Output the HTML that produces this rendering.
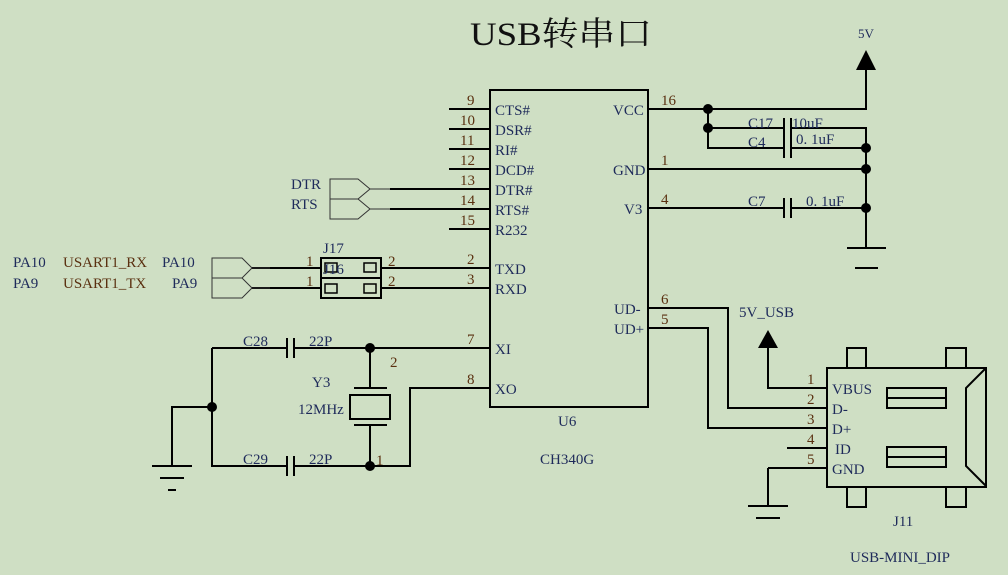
<!DOCTYPE html>
<html><head><meta charset="utf-8"><style>
html,body{margin:0;padding:0;background:#cfdfc4;}
svg{display:block}
text{font-family:"Liberation Serif","Noto Serif CJK SC",serif;font-size:15px;fill:#1e2a5a}
.n{fill:#5a3010}
</style></head><body>
<svg width="1008" height="575" viewBox="0 0 1008 575" xmlns="http://www.w3.org/2000/svg">
<rect width="1008" height="575" fill="#cfdfc4"/>
<text x="470" y="45" style="font-size:33px;fill:#111" textLength="182" lengthAdjust="spacingAndGlyphs">USB转串口</text>
<g stroke="#000" stroke-width="2" fill="none">
<!-- chip -->
<rect x="490" y="90" width="158" height="317"/>
<path d="M449 109H490M449 129H490M449 149H490M449 169H490M449 229H490"/>
<path d="M390 189H490M390 209H490"/>
<path d="M381 268H490M381 288H490"/>
<path d="M252 268H321M252 288H321"/>
<!-- right pins -->
<path d="M648 109H866V70M648 169H866M648 208H784M791 208H866"/>
<path d="M708 109V148H784M791 148H866M708 128H784M791 128H866V248"/>
<path d="M784 118V158M791 118V158M784 198V218M791 198V218"/>
<path d="M847 248H886M855 268H878" />
<!-- USB lines -->
<path d="M648 308H728V408H827M648 328H708V428H827"/>
<path d="M768 348V388H827M787 448H827M768 468H827V468M768 468V506M748 506H788M756 518H780"/>
<!-- J11 -->
<rect x="827" y="368" width="159" height="119"/>
<path d="M847 368V348H866V368M946 368V348H966V368M847 487V507H866V487M946 487V507H966V487"/>
<rect x="887" y="388" width="59" height="20"/><path d="M887 398H946"/>
<rect x="887" y="447" width="59" height="20"/><path d="M887 457H946"/>
<path d="M986 368L966 388V466L986 486"/>
<!-- J17 -->
<rect x="321" y="258" width="60" height="40"/><path d="M321 278H381"/>
</g>
<g stroke="#000" stroke-width="1.5" fill="none">
<rect x="325" y="263" width="12" height="9"/><rect x="364" y="263" width="12" height="9"/>
<rect x="325" y="284" width="12" height="9"/><rect x="364" y="284" width="12" height="9"/>
</g>
<!-- connectors -->
<g stroke="#333" stroke-width="1" fill="none">
<path d="M370 189H390M370 209H390M252 268H270M252 288H270"/>
<path d="M330 179H358L370 189L358 199H330ZM330 199H358L370 209L358 219H330Z"/>
<path d="M212 258H242L252 268L242 278H212ZM212 278H242L252 288L242 298H212Z"/>
</g>
<!-- crystal -->
<g stroke="#000" stroke-width="2" fill="none">
<path d="M212 348H287M294 348H490M287 338V358M294 338V358"/>
<path d="M212 348V466H287M294 466H410V388H490M287 456V476M294 456V476"/>
<path d="M212 407H172V466M152 466H192M160 478H184M168 490H176"/>
<path d="M370 348V388M354 388H387M370 425V466M354 425H387"/>
<rect x="350" y="395" width="40" height="24"/>
</g>
<g fill="#000">
<circle cx="708" cy="109" r="5"/><circle cx="708" cy="128" r="5"/>
<circle cx="866" cy="148" r="5"/><circle cx="866" cy="169" r="5"/><circle cx="866" cy="208" r="5"/>
<circle cx="370" cy="348" r="5"/><circle cx="370" cy="466" r="5"/><circle cx="212" cy="407" r="5"/>
<path d="M856 70L866 50L876 70Z"/><path d="M758 348L768 330L778 348Z"/>
</g>
<!-- chip labels -->
<text x="495" y="115">CTS#</text><text x="495" y="135">DSR#</text><text x="495" y="155">RI#</text>
<text x="495" y="175">DCD#</text><text x="495" y="195">DTR#</text><text x="495" y="215">RTS#</text>
<text x="495" y="235">R232</text><text x="495" y="274">TXD</text><text x="495" y="294">RXD</text>
<text x="495" y="354">XI</text><text x="495" y="394">XO</text>
<text x="613" y="115">VCC</text><text x="613" y="175">GND</text><text x="624" y="214">V3</text>
<text x="614" y="314">UD-</text><text x="614" y="334">UD+</text>
<text x="558" y="426">U6</text><text x="540" y="464">CH340G</text>
<g class="n">
<text class="n" x="467" y="105">9</text><text class="n" x="460" y="125">10</text><text class="n" x="460" y="145">11</text>
<text class="n" x="460" y="165">12</text><text class="n" x="460" y="185">13</text><text class="n" x="460" y="205">14</text>
<text class="n" x="460" y="225">15</text><text class="n" x="467" y="264">2</text><text class="n" x="467" y="284">3</text>
<text class="n" x="467" y="344">7</text><text class="n" x="467" y="384">8</text>
<text class="n" x="661" y="105">16</text><text class="n" x="661" y="165">1</text><text class="n" x="661" y="204">4</text>
<text class="n" x="661" y="304">6</text><text class="n" x="661" y="324">5</text>
<text class="n" x="306" y="266">1</text><text class="n" x="306" y="286">1</text>
<text class="n" x="388" y="266">2</text><text class="n" x="388" y="286">2</text>
<text class="n" x="390" y="367">2</text><text class="n" x="376" y="465">1</text>
<text class="n" x="807" y="384">1</text><text class="n" x="807" y="404">2</text><text class="n" x="807" y="424">3</text>
<text class="n" x="807" y="444">4</text><text class="n" x="807" y="464">5</text>
</g>
<text x="748" y="128">C17</text><text x="792" y="128">10uF</text>
<text x="748" y="147">C4</text><text x="796" y="144">0. 1uF</text>
<text x="748" y="206">C7</text><text x="806" y="206">0. 1uF</text>
<text x="858" y="38" style="font-size:13px">5V</text>
<text x="739" y="317">5V_USB</text>
<text x="832" y="394">VBUS</text><text x="832" y="414">D-</text><text x="832" y="434">D+</text>
<text x="835" y="454">ID</text><text x="832" y="474">GND</text>
<text x="893" y="526">J11</text><text x="850" y="562">USB-MINI_DIP</text>
<text x="291" y="189">DTR</text><text x="291" y="209">RTS</text>
<text x="323" y="253">J17</text><text x="323" y="274">J16</text>
<text x="13" y="267">PA10</text><text x="13" y="288">PA9</text>
<text class="n" x="63" y="267">USART1_RX</text><text class="n" x="63" y="288">USART1_TX</text>
<text x="162" y="267">PA10</text><text x="172" y="288">PA9</text>
<text x="243" y="346">C28</text><text x="309" y="346">22P</text>
<text x="243" y="464">C29</text><text x="309" y="464">22P</text>
<text x="312" y="387">Y3</text><text x="298" y="414">12MHz</text>
</svg>
</body></html>
